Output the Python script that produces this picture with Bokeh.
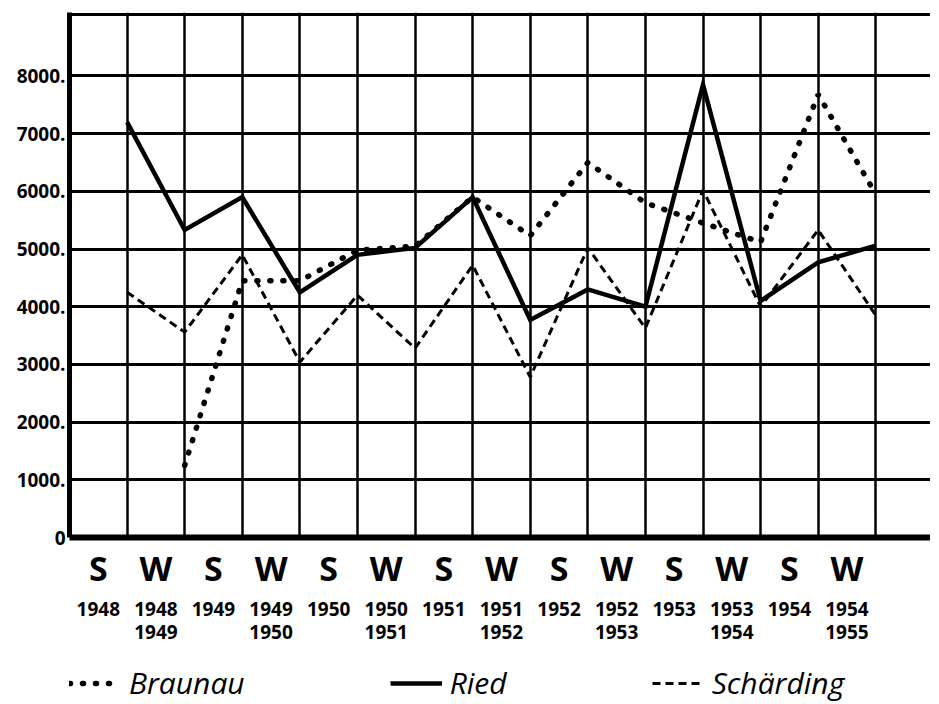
import math
from bokeh.plotting import figure
from bokeh.layouts import column
from bokeh.models import (Range1d, FixedTicker, LinearAxis, Legend, LegendItem,
                          ColumnDataSource)
from bokeh.embed import file_html
from bokeh.resources import INLINE

# ---- data -------------------------------------------------------------
seasons = ["S", "W", "S", "W", "S", "W", "S", "W", "S", "W", "S", "W", "S", "W"]
years = ["1948", "1948\n1949", "1949", "1949\n1950", "1950", "1950\n1951",
         "1951", "1951\n1952", "1952", "1952\n1953", "1953", "1953\n1954",
         "1954", "1954\n1955"]
braunau = [math.nan, 1250, 4450, 4450, 4980, 5050, 5900, 5230, 6500, 5800,
           5450, 5120, 7680, 5950]
ried = [7200, 5330, 5900, 4250, 4900, 5020, 5900, 3770, 4300, 4000,
        7850, 4100, 4770, 5060]
schaerding = [4250, 3560, 4900, 3040, 4200, 3280, 4720, 2780, 5020, 3630,
              6020, 4000, 5330, 3850]
series_names = ["Braunau", "Ried", "Schärding"]
y_ticks = [0, 1000, 2000, 3000, 4000, 5000, 6000, 7000, 8000]
y_tick_labels = ["0", "1000.", "2000.", "3000.", "4000.", "5000.", "6000.",
                 "7000.", "8000."]

n = len(seasons)
# each period's value is plotted at the right edge of its column
x_pts = [i + 1 for i in range(n)]
x_centers = [i + 0.5 for i in range(n)]
year_line1 = [y.split("\n")[0] for y in years]
year_line2 = [y.split("\n")[1] if "\n" in y else "" for y in years]

src = ColumnDataSource(dict(x=x_pts, braunau=braunau, ried=ried,
                            schaerding=schaerding))

FONT = "Open Sans"
STYLES = {
    "braunau": dict(line_color="black", line_width=5.5, line_dash="1 12",
                    line_cap="round"),
    "ried": dict(line_color="black", line_width=4.5, line_join="miter"),
    "schaerding": dict(line_color="black", line_width=3, line_dash="8 5"),
}

p = figure(frame_width=861, frame_height=525, x_range=Range1d(0, 14.95),
           y_range=Range1d(0, 9100), output_backend="svg",
           toolbar_location=None, min_border_left=69, min_border_right=0,
           min_border_top=12, min_border_bottom=126)
p.outline_line_color = None
p.background_fill_color = "white"
p.border_fill_color = "white"

# grid
p.xgrid.ticker = FixedTicker(ticks=[i for i in range(1, n + 2)])
p.ygrid.ticker = FixedTicker(ticks=y_ticks[1:] + [9060])
p.xgrid.grid_line_color = "black"
p.xgrid.grid_line_width = 2.5
p.ygrid.grid_line_color = "black"
p.ygrid.grid_line_width = 3

# y axis
ya = p.yaxis[0]
ya.ticker = FixedTicker(ticks=y_ticks)
ya.major_label_overrides = {v: s for v, s in zip(y_ticks, y_tick_labels)}
ya.axis_line_width = 5
ya.axis_line_color = "black"
ya.major_tick_line_color = None
ya.minor_tick_line_color = None
ya.major_tick_out = 0
ya.major_tick_in = 0
ya.major_label_standoff = 4
ya.major_label_text_font = FONT
ya.major_label_text_font_style = "bold"
ya.major_label_text_font_size = "19px"
ya.major_label_text_color = "black"


def style_label_axis(ax, size, standoff):
    ax.major_tick_line_color = None
    ax.minor_tick_line_color = None
    ax.major_tick_out = 0
    ax.major_tick_in = 0
    ax.major_label_standoff = standoff
    ax.major_label_text_font = FONT
    ax.major_label_text_font_style = "bold"
    ax.major_label_text_font_size = size
    ax.major_label_text_color = "black"


# x axis: seasons
xa = p.xaxis[0]
xa.ticker = FixedTicker(ticks=x_centers)
xa.major_label_overrides = {c: s for c, s in zip(x_centers, seasons)}
xa.axis_line_width = 6
xa.axis_line_color = "black"
style_label_axis(xa, "34px", 7)

# years, first and second line
xa2 = LinearAxis(ticker=FixedTicker(ticks=x_centers),
                 major_label_overrides={c: s for c, s in zip(x_centers, year_line1)},
                 axis_line_color=None)
style_label_axis(xa2, "19px", 8)
p.add_layout(xa2, "below")

xa3 = LinearAxis(ticker=FixedTicker(ticks=x_centers),
                 major_label_overrides={c: s for c, s in zip(x_centers, year_line2)},
                 axis_line_color=None)
style_label_axis(xa3, "19px", 6)
p.add_layout(xa3, "below")

# lines
for key in ["braunau", "ried", "schaerding"]:
    p.line("x", key, source=src, **STYLES[key])

# ---- legend strip below the chart --------------------------------------
pl = figure(width=931, height=40, x_range=Range1d(0, 1), y_range=Range1d(0, 1),
            output_backend="svg", toolbar_location=None,
            min_border_left=0, min_border_right=0, min_border_top=0,
            min_border_bottom=0)
pl.axis.visible = False
pl.grid.visible = False
pl.outline_line_color = None
pl.background_fill_color = "white"
pl.border_fill_color = "white"
leg_renderers = [pl.line("x", key, source=src, **STYLES[key])
                 for key in ["braunau", "ried", "schaerding"]]

legend = Legend(items=[LegendItem(label=name, renderers=[r])
                       for name, r in zip(series_names, leg_renderers)],
                orientation="horizontal", location=(0, 0),
                spacing=145, glyph_width=52, label_standoff=8,
                padding=0, margin=0,
                border_line_color=None, background_fill_alpha=0)
legend.label_text_font = FONT
legend.label_text_font_style = "italic"
legend.label_text_font_size = "30px"
legend.label_text_color = "black"
pl.add_layout(legend, "center")

layout = column(p, pl, spacing=0)
open("out.html", "w").write(file_html(layout, INLINE))
